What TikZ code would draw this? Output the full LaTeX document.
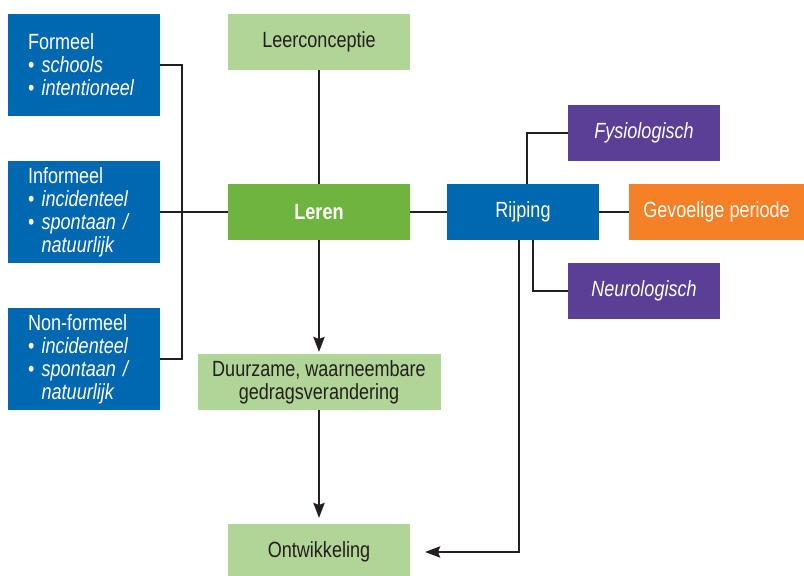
\documentclass[tikz,border=0pt]{standalone}
\usepackage{fontspec}
\setmainfont{Liberation Sans}[FakeStretch=0.82]
\usetikzlibrary{arrows.meta,positioning}

\definecolor{blauw}{RGB}{0,103,177}
\definecolor{lichtgroen}{RGB}{177,212,151}
\definecolor{groen}{RGB}{110,180,63}
\definecolor{paars}{RGB}{91,63,151}
\definecolor{oranje}{RGB}{245,128,37}
\definecolor{lijnzwart}{RGB}{35,31,32}

\tikzset{
  box/.style={rectangle, minimum width=182pt, minimum height=56pt, inner sep=0pt, outer sep=0pt,
              font=\fontsize{22}{23}\selectfont, align=center},
  licht/.style={box, fill=lichtgroen, text=lijnzwart},
  hoofd/.style={box, fill=groen, text=white, font=\fontsize{22}{23}\selectfont\bfseries},
  links/.style={box, fill=blauw, text=white, minimum width=152pt, minimum height=102pt,
                text width=112pt, align=left},
  rijp/.style={box, fill=blauw, text=white, minimum width=152pt},
  paarsbox/.style={box, fill=paars, text=white, minimum width=152pt},
  oranjebox/.style={box, fill=oranje, text=white, minimum width=175pt},
  lijn/.style={draw=lijnzwart, line width=2.8pt}
}

\begin{document}
\begin{tikzpicture}[>={Stealth[length=15pt,width=11pt,inset=2pt]},auto,node distance=114pt]

            \useasboundingbox (0pt,0pt) rectangle (804pt,-576pt);

            % define the boxes in the middle column

            \node[hoofd]                       (leren)         at (319pt,-212pt)   {Leren};

            \node[licht]                       (leerconceptie) [above=of leren]    {Leerconceptie};

            \node[licht,minimum width=243pt]   (duurzaam)      [below=of leren]    {Duurzame, waarneembare\\gedragsverandering};

            \node[licht]                       (ontwikkeling)  [below=of duurzaam] {Ontwikkeling};

            % the forms of learning on the left

            \node[links]  (informeel)  [left=68pt of leren]       {Informeel\\• \textit{incidenteel}\\• \textit{spontaan /}\\\phantom{•\ }\textit{natuurlijk}};

            \node[links]  (formeel)    [above=45pt of informeel]  {Formeel\\• \textit{schools}\\• \textit{intentioneel}};

            \node[links]  (nonformeel) [below=45pt of informeel]  {Non-formeel\\• \textit{incidenteel}\\• \textit{spontaan /}\\\phantom{•\ }\textit{natuurlijk}};

            % maturation on the right

            \node[rijp]      (rijping)  [right=37pt of leren]                 {Rijping};

            \node[oranjebox] (gevoelig) [right=30pt of rijping]               {Gevoelige periode};

            \node[paarsbox]  (fysio)    [above=23pt of rijping, xshift=121pt] {\textit{Fysiologisch}};

            \node[paarsbox]  (neuro)    [below=23pt of rijping, xshift=121pt] {\textit{Neurologisch}};

            \coordinate (ontwin) at ([xshift=15pt]ontwikkeling.east);

            % connectors

            \draw[lijn] (formeel.east) -- ++(22pt,0) |- (nonformeel.east);

            \path[lijn] (informeel)     edge (leren)
                        (leerconceptie) edge (leren)
                        (leren)         edge (rijping)
                        (rijping)       edge (gevoelig);

            \path[lijn,->] (leren)    edge [shorten >=2pt] (duurzaam)
                           (duurzaam) edge [shorten >=6pt] (ontwikkeling);

            \draw[lijn] ([xshift=4pt]rijping.north) |- (fysio.west);

            \draw[lijn] ([xshift=10pt]rijping.south) |- (neuro.west);

            \draw[lijn,->] ([xshift=-4pt]rijping.south) |- (ontwin);

        \end{tikzpicture}
\end{document}
